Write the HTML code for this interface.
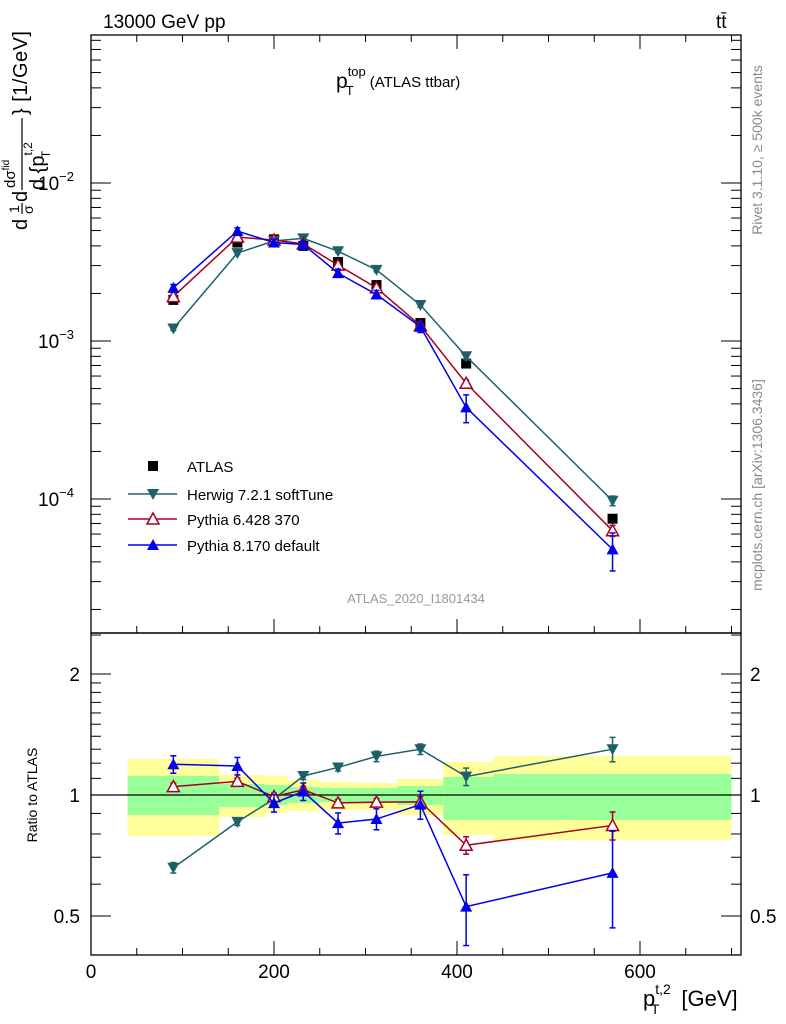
<!DOCTYPE html>
<html><head><meta charset="utf-8"><style>
html,body{margin:0;padding:0;background:#fff;}
svg{display:block;font-family:"Liberation Sans",sans-serif;}
</style></head><body>
<svg id="chart" width="786" height="1024" viewBox="0 0 786 1024" xmlns="http://www.w3.org/2000/svg">
<rect width="786" height="1024" fill="#fff"/>
<g id="bands"></g>
<g id="axes"></g>
<g id="marks"></g>
<text x="103" y="28" font-size="19">13000 GeV pp</text>
<text x="716" y="28" font-size="19">tt̄</text>
<text x="336" y="88" font-size="21">p<tspan font-size="13" dy="-12">top</tspan><tspan font-size="13" dx="-20" dy="19">T</tspan><tspan font-size="15" dx="16" dy="-8">(ATLAS ttbar)</tspan></text>
<text x="416" y="603" font-size="13" fill="#999" text-anchor="middle">ATLAS_2020_I1801434</text>
<text transform="translate(762,150) rotate(-90)" font-size="14" fill="#888" text-anchor="middle">Rivet 3.1.10, ≥ 500k events</text>
<text transform="translate(762,485) rotate(-90)" font-size="14" fill="#888" text-anchor="middle">mcplots.cern.ch [arXiv:1306.3436]</text>
<g transform="translate(27,0) rotate(-90)">
 <text x="-230" y="0" font-size="20">d</text>
 <text x="-213" y="-8" font-size="14">1</text>
 <line x1="-214" x2="-203" y1="-5" y2="-5" stroke="#000" stroke-width="1.2"/>
 <text x="-214" y="6" font-size="14">σ</text>
 <text x="-202" y="0" font-size="20">d</text>
 <text x="-188" y="-12" font-size="15">dσ<tspan font-size="10" dy="-6">fid</tspan></text>
 <line x1="-190" x2="-118" y1="-5" y2="-5" stroke="#000" stroke-width="1.2"/>
 <text x="-190" y="17" font-size="20">d {p<tspan font-size="12" dy="-12">t,2</tspan><tspan font-size="12" dx="-16" dy="18">T</tspan></text>
 <text x="-115" y="0" font-size="20" textLength="84">} [1/GeV]</text>
</g>
<text transform="translate(37,795) rotate(-90)" font-size="14" text-anchor="middle">Ratio to ATLAS</text>
<text x="643" y="1006" font-size="22">p<tspan font-size="14" dy="-12">t,2</tspan><tspan font-size="14" dx="-20" dy="20">T</tspan><tspan dx="22" dy="-8">[GeV]</tspan></text>
<g id="legend"></g>
</svg>
<script>
const xs = [90,160,200,232,270,312,360,410,570];
const atlas = [1.82e-3,4.2e-3,4.4e-3,4.0e-3,3.16e-3,2.26e-3,1.3e-3,7.2e-4,7.5e-5];
const herwig = [1.2e-3,3.6e-3,4.3e-3,4.46e-3,3.7e-3,2.82e-3,1.69e-3,8.0e-4,9.75e-5];
const py6 = [1.91e-3,4.54e-3,4.36e-3,4.12e-3,3.02e-3,2.17e-3,1.25e-3,5.4e-4,6.3e-5];
const py8 = [2.17e-3,4.96e-3,4.2e-3,4.08e-3,2.69e-3,1.97e-3,1.23e-3,3.8e-4,4.8e-5];
const herwigErr = [0.03,0.02,0.02,0.02,0.02,0.03,0.03,0.05,0.07];
const py6Err = [0.02,0.02,0.02,0.02,0.02,0.02,0.03,0.05,0.08];
const py8Err = [0.05,0.05,0.05,0.05,0.06,0.06,0.08,0.2,0.27];
const binEdges = [40,140,190,215,250,290,335,385,440,700];
const greenUp = [1.115,1.065,1.059,1.047,1.041,1.041,1.053,1.109,1.128];
const greenDn = [0.892,0.934,0.944,0.955,0.961,0.961,0.944,0.867,0.867];
const yellowUp = [1.229,1.121,1.115,1.090,1.077,1.071,1.096,1.208,1.25];
const yellowDn = [0.791,0.882,0.902,0.912,0.918,0.918,0.892,0.795,0.773];
const xTicks = [0,200,400,600];
const ratioTicks = [0.5,1,2];

const NS="http://www.w3.org/2000/svg";
const L=91,R=741,T=35,M=633,B=955;
const X=v=>L+v*0.915;
const Y=v=>183-(Math.log10(v)+2)*158;
const YR=v=>795-Math.log10(v)*402;
function mk(parent,tag,attrs){const e=document.createElementNS(NS,tag);for(const k in attrs)e.setAttribute(k,attrs[k]);document.getElementById(parent).appendChild(e);return e;}

for(let i=0;i<binEdges.length-1;i++){
 const x0=X(binEdges[i]),x1=X(binEdges[i+1]);
 const yb=mk('bands','rect',{x:x0,y:YR(yellowUp[i]),width:x1-x0,height:YR(yellowDn[i])-YR(yellowUp[i]),fill:'#ffff99'});
 
 
 const gb=mk('bands','rect',{x:x0,y:YR(greenUp[i]),width:x1-x0,height:YR(greenDn[i])-YR(greenUp[i]),fill:'#99ff99'});
 
 
}
mk('axes','rect',{x:L,y:T,width:R-L,height:M-T,fill:'none',stroke:'#000','stroke-width':1.3});
mk('axes','rect',{x:L,y:M,width:R-L,height:B-M,fill:'none',stroke:'#000','stroke-width':1.3});
mk('axes','line',{x1:L,x2:R,y1:YR(1),y2:YR(1),stroke:'#000','stroke-width':1.2});
for(let v=0;v<=700;v+=50){
 const maj=v%200===0,len=maj?14:7;
 [M,B].forEach(yb=>mk('axes','line',{x1:X(v),x2:X(v),y1:yb,y2:yb-len,stroke:'#000'}));
 mk('axes','line',{x1:X(v),x2:X(v),y1:T,y2:T+len,stroke:'#000'});
}
xTicks.forEach(v=>{const t=mk('axes','text',{x:X(v),y:978,'font-size':19,'text-anchor':'middle'});t.textContent=v;
 
 });
for(let d=-5;d<=-1;d++){for(let m=1;m<10;m++){const v=m*Math.pow(10,d),y=Y(v);if(y<T||y>M)continue;
 const len=m===1?20:10;
 mk('axes','line',{x1:L,x2:L+len,y1:y,y2:y,stroke:'#000'});
 mk('axes','line',{x1:R,x2:R-len,y1:y,y2:y,stroke:'#000'});}}
[-2,-3,-4].forEach(d=>{const t=mk('axes','text',{x:38,y:Y(Math.pow(10,d))+7,'font-size':19});
 t.innerHTML='10<tspan font-size="13" dy="-9">'+'\u2212'+(-d)+'</tspan>';
 
 });
[0.4,0.5,0.6,0.7,0.8,0.9,1,1.1,1.2,1.3,1.4,1.5,1.6,1.7,1.8,1.9,2,2.5].forEach(v=>{const y=YR(v);if(y<M||y>B)return;
 const len=(v===0.5||v===1||v===2)?20:10;
 mk('axes','line',{x1:L,x2:L+len,y1:y,y2:y,stroke:'#000'});
 mk('axes','line',{x1:R,x2:R-len,y1:y,y2:y,stroke:'#000'});});
ratioTicks.forEach(v=>{[[80,'end'],[750,'start']].forEach(([x,a])=>{const t=mk('axes','text',{x:x,y:YR(v)+7,'font-size':19,'text-anchor':a});t.textContent=v;
 
 });});

function marker(g,type,x,y,c){
 if(type==='sq')return mk(g,'rect',{x:x-5,y:y-5,width:10,height:10,fill:'#000'});
 if(type==='down')return mk(g,'polygon',{points:`${x-6},${y-5} ${x+6},${y-5} ${x},${y+6}`,fill:c});
 if(type==='upo')return mk(g,'polygon',{points:`${x-6},${y+5} ${x+6},${y+5} ${x},${y-6}`,fill:'#fff',stroke:c,'stroke-width':1.5});
 return mk(g,'polygon',{points:`${x-6},${y+5} ${x+6},${y+5} ${x},${y-6}`,fill:c});
}
const series=[
 {name:'herwig',vals:herwig,err:herwigErr,c:'#1f6068',m:'down',label:'Herwig 7.2.1 softTune'},
 {name:'pythia6',vals:py6,err:py6Err,c:'#a50021',m:'upo',label:'Pythia 6.428 370'},
 {name:'pythia8',vals:py8,err:py8Err,c:'#0000ee',m:'up',label:'Pythia 8.170 default'}];
atlas.forEach((v,i)=>{const e=marker('marks','sq',X(xs[i]),Y(v));
 
 });
series.forEach(s=>{
 const pts=s.vals.map((v,i)=>X(xs[i])+','+Y(v)).join(' ');
 const pl=mk('marks','polyline',{points:pts,fill:'none',stroke:s.c,'stroke-width':1.5});
 
 
 const rpts=s.vals.map((v,i)=>X(xs[i])+','+YR(v/atlas[i])).join(' ');
 const rl=mk('marks','polyline',{points:rpts,fill:'none',stroke:s.c,'stroke-width':1.5});
 
 
 s.vals.forEach((v,i)=>{
  const x=X(xs[i]);
  [[Y,v],[YR,v/atlas[i]]].forEach(([f,val])=>{
   const y1=f(val*(1+s.err[i])),y2=f(val*(1-s.err[i]));
   mk('marks','line',{x1:x,x2:x,y1:y1,y2:y2,stroke:s.c,'stroke-width':1.5});
   mk('marks','line',{x1:x-3,x2:x+3,y1:y1,y2:y1,stroke:s.c,'stroke-width':1.5});
   mk('marks','line',{x1:x-3,x2:x+3,y1:y2,y2:y2,stroke:s.c,'stroke-width':1.5});
   const p=marker('marks',s.m,x,f(val),s.c);
   
   
  });
 });
});
const lr=[466,494,519,545];
marker('legend','sq',153,lr[0]);
const lt0=mk('legend','text',{x:187,y:lr[0]+6,'font-size':15});lt0.textContent='ATLAS';


series.forEach((s,i)=>{const y=lr[i+1];
 mk('legend','line',{x1:128,x2:177,y1:y,y2:y,stroke:s.c,'stroke-width':1.5});
 marker('legend',s.m,153,y,s.c);
 const t=mk('legend','text',{x:187,y:y+6,'font-size':15});t.textContent=s.label;
 
 });
</script>
</body></html>
